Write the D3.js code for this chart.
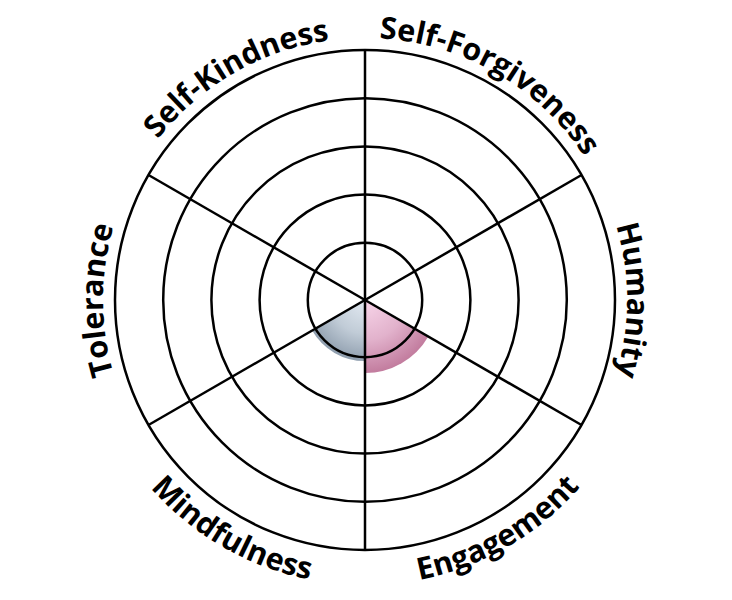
<!DOCTYPE html>
<html>
<head>
<meta charset="utf-8">
<script src="https://cdn.jsdelivr.net/npm/d3@7"></script>
<style>
  body { margin: 0; background: #fff; }
</style>
</head>
<body>
<svg id="chart" width="732" height="600"></svg>
<script>
var categories = ['Self-Forgiveness', 'Humanity', 'Engagement', 'Mindfulness', 'Tolerance', 'Self-Kindness'];
var values = [0, 0, 1.33, 1.08, 0, 0];
var rings = [1, 2, 3, 4, 5];

var cx = 365, cy = 300;

var svg = d3.select('#chart');

var rScale = d3.scaleLinear()
  .domain([0, 5])
  .range([9, 250]);

var angle = d3.scaleBand()
  .domain(categories)
  .range([0, 2 * Math.PI]);

var defs = svg.append('defs');

function grad(id, c0, c1, r) {
  var g = defs.append('radialGradient')
    .attr('id', id)
    .attr('gradientUnits', 'userSpaceOnUse')
    .attr('cx', 0).attr('cy', 0).attr('r', r);
  g.append('stop').attr('offset', '0%').attr('stop-color', c0);
  g.append('stop').attr('offset', '55%').attr('stop-color', d3.interpolateRgb(c0, c1)(0.4));
  g.append('stop').attr('offset', '100%').attr('stop-color', c1);
}
grad('g-Engagement', '#f8d6ea', '#c27c9e', rScale(values[2]));
grad('g-Mindfulness', '#e3eaf2', '#8f9eae', rScale(values[3]));

var chart = svg.append('g')
  .attr('transform', 'translate(' + cx + ',' + cy + ')');

var arc = d3.arc()
  .innerRadius(0)
  .outerRadius(function(d) { return rScale(d.v); })
  .startAngle(function(d) { return angle(d.c); })
  .endAngle(function(d) { return angle(d.c) + angle.bandwidth(); });

var data = categories.map(function(c, i) { return { c: c, v: values[i] }; });

chart.selectAll('.slice')
  .data(data.filter(function(d) { return d.v > 0; }))
  .enter()
  .append('path')
    .attr('class', 'slice')
    .attr('d', arc)
    .attr('fill', function(d) { return 'url(#g-' + d.c + ')'; });

chart.selectAll('.ring')
  .data(rings)
  .enter()
  .append('circle')
    .attr('r', function(d) { return rScale(d); })
    .attr('fill', 'none')
    .attr('stroke', '#000')
    .attr('stroke-width', 2.5);

chart.selectAll('.spoke')
  .data(categories)
  .enter()
  .append('line')
    .attr('x1', 0)
    .attr('y1', 0)
    .attr('x2', function(d) { return rScale(5) * Math.sin(angle(d)); })
    .attr('y2', function(d) { return -rScale(5) * Math.cos(angle(d)); })
    .attr('stroke', '#000')
    .attr('stroke-width', 2.5);

// curved labels, only the bottom two are flipped to read left to right
function labelPath(d, i) {
  var mid = angle(d) + angle.bandwidth() / 2;
  var deg = Math.round(mid * 180 / Math.PI);
  var flip = deg > 90 && deg < 270;
  var r = flip ? 285 : 262;
  var a0 = mid - Math.PI / 2, a1 = mid + Math.PI / 2;
  if (flip) { var t = a0; a0 = a1; a1 = t; }
  var p = d3.path();
  p.arc(0, 0, r, a0 - Math.PI / 2, a1 - Math.PI / 2, flip);
  return p.toString();
}

chart.selectAll('.lpath')
  .data(categories)
  .enter()
  .append('path')
    .attr('id', function(d, i) { return 'lp' + i; })
    .attr('d', labelPath)
    .attr('fill', 'none');

chart.selectAll('.label')
  .data(categories)
  .enter()
  .append('text')
    .style('font-family', '"Open Sans", sans-serif')
    .style('font-weight', 700)
    .style('font-size', '30.5px')
    .attr('fill', '#000')
  .append('textPath')
    .attr('href', function(d, i) { return '#lp' + i; })
    .attr('startOffset', '50%')
    .attr('text-anchor', 'middle')
    .text(function(d) { return d; });
</script>
</body>
</html>
